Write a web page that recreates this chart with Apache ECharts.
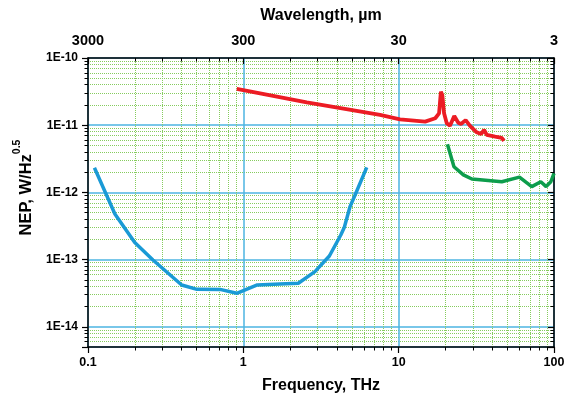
<!DOCTYPE html>
<html>
<head>
<meta charset="utf-8">
<script src="https://cdn.jsdelivr.net/npm/echarts@6/dist/echarts.min.js"></script>
<style>
  html, body { margin: 0; padding: 0; background: #fff; }
  #chart { width: 566px; height: 394px; }
</style>
</head>
<body>
<div id="chart"></div>
<script>
// frequency (THz) and NEP (W/Hz^0.5)
const blueFreq = [0.110, 0.149, 0.200, 0.262, 0.401, 0.503, 0.708, 0.907, 1.23, 1.72, 2.26, 2.89, 3.58, 4.24, 4.47, 4.86, 5.24, 6.23];
const blueNep = [2.33e-12, 4.77e-13, 1.79e-13, 9.86e-14, 4.19e-14, 3.61e-14, 3.6e-14, 3.15e-14, 4.19e-14, 4.33e-14, 4.44e-14, 6.61e-14, 1.13e-13, 2.32e-13, 3.03e-13, 6.12e-13, 9.15e-13, 2.36e-12];

const redFreq = [0.907, 2.56, 7.59, 10.2, 14.8, 17.2, 18.2, 18.7, 19.1, 19.6, 20.4, 21.4, 22.8, 24.2, 25.2, 27.0, 28.8, 31.8, 33.9, 35.5, 36.9, 41.8, 46.1, 47.7];
const redNep = [3.46e-11, 2.19e-11, 1.42e-11, 1.22e-11, 1.13e-11, 1.27e-11, 1.5e-11, 3.15e-11, 2.81e-11, 1.5e-11, 1.07e-11, 9.8e-12, 1.37e-11, 1.09e-11, 1.04e-11, 1.19e-11, 9.8e-12, 7.84e-12, 7.4e-12, 8.5e-12, 7.15e-12, 6.74e-12, 6.45e-12, 5.88e-12];

const greenFreq = [20.6, 22.7, 26.1, 29.6, 46.1, 59.9, 71.9, 82.2, 89.0, 95.4, 100];
const greenNep = [5.2e-12, 2.41e-12, 1.82e-12, 1.58e-12, 1.44e-12, 1.69e-12, 1.22e-12, 1.44e-12, 1.22e-12, 1.44e-12, 1.92e-12];

const freqRange = [0.1, 100];
const nepRange = [5e-15, 1e-10];

const font = "'Liberation Sans', Arial, sans-serif";
const gridGreen = "#86cc5e";
const majorBlue = "#4db4e2";

const zip = (xs, ys) => xs.map((x, i) => [x, ys[i]]);

const chart = echarts.init(document.getElementById("chart"));

const tickBase = {
  axisLine: { onZero: false, lineStyle: { color: "#000", width: 1.5 } },
  axisTick: { length: 6, lineStyle: { color: "#000", width: 1.2 } },
  minorTick: { show: true, splitNumber: 9, length: 3.5, lineStyle: { color: "#000", width: 1 } },
};

const options = {
  animation: false,
  grid: { left: 88, right: 12, top: 58, bottom: 47, outerBoundsMode: "none", containLabel: false },
  xAxis: [
    {
      type: "log",
      min: freqRange[0],
      max: freqRange[1],
      position: "bottom",
      ...tickBase,
      axisLabel: {
        formatter: (v) => String(+v.toPrecision(3)),
        align: "center",
        alignMinLabel: "center",
        alignMaxLabel: "center",
        color: "#000", fontFamily: font, fontWeight: "bold", fontSize: 12.5, margin: 9,
      },
      splitLine: { show: true, lineStyle: { color: majorBlue, width: 1.5 } },
      minorSplitLine: { show: true, lineStyle: { color: gridGreen, type: [1, 1], width: 1 } },
      name: "Frequency, THz",
      nameLocation: "middle",
      nameGap: 31,
      nameTextStyle: { color: "#000", fontFamily: font, fontWeight: "bold", fontSize: 16 },
    },
    {
      type: "log",
      min: freqRange[0],
      max: freqRange[1],
      position: "top",
      ...tickBase,
      axisTick: { ...tickBase.axisTick, inside: true },
      minorTick: { ...tickBase.minorTick, inside: true },
      axisLabel: {
        formatter: (v) => String(Math.round(300 / v)),
        align: "center",
        alignMinLabel: "center",
        alignMaxLabel: "center",
        color: "#000", fontFamily: font, fontWeight: "bold", fontSize: 14.5, margin: 10,
      },
      splitLine: { show: false },
      name: "Wavelength, \u00b5m",
      nameLocation: "middle",
      nameGap: 34,
      nameTextStyle: { color: "#000", fontFamily: font, fontWeight: "bold", fontSize: 16 },
    },
  ],
  yAxis: [
    {
      type: "log",
      min: nepRange[0],
      max: nepRange[1],
      position: "left",
      ...tickBase,
      axisLabel: {
        formatter: (v) => "1E" + Math.round(Math.log10(v)),
        showMinLabel: false,
        color: "#000", fontFamily: font, fontWeight: "bold", fontSize: 12, margin: 10,
      },
      splitLine: { show: true, lineStyle: { color: majorBlue, width: 1.5 } },
      minorSplitLine: { show: true, lineStyle: { color: gridGreen, type: [1, 1], width: 1 } },
      name: "{a|NEP, W/Hz}{b|0.5}",
      nameLocation: "middle",
      nameGap: 52,
      nameTextStyle: {
        padding: [0, 0, 0, 30],
        rich: {
          a: { color: "#000", fontFamily: font, fontWeight: "bold", fontSize: 16.5, verticalAlign: "bottom" },
          b: { color: "#000", fontFamily: font, fontWeight: "bold", fontSize: 10.5, verticalAlign: "top", padding: [0, 0, 12, 0] },
        },
      },
    },
    {
      type: "log",
      min: nepRange[0],
      max: nepRange[1],
      position: "right",
      ...tickBase,
      axisTick: { ...tickBase.axisTick, inside: true },
      minorTick: { ...tickBase.minorTick, inside: true },
      axisLabel: { show: false },
      splitLine: { show: false },
    },
  ],
  series: [
    {
      type: "line",
      data: zip(blueFreq, blueNep),
      showSymbol: false,
      lineStyle: { color: "#1a9ad6", width: 3.5 },
    },
    {
      type: "line",
      data: zip(redFreq, redNep),
      showSymbol: false,
      lineStyle: { color: "#ec1c24", width: 3.8 },
    },
    {
      type: "line",
      data: zip(greenFreq, greenNep),
      showSymbol: false,
      lineStyle: { color: "#0d9d4c", width: 3.5 },
    },
  ],
};

chart.setOption(options);
</script>
</body>
</html>
